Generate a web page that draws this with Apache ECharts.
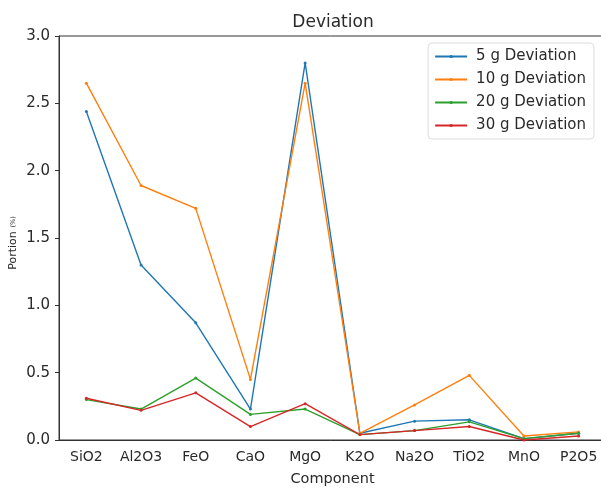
<!DOCTYPE html>
<html>
<head>
<meta charset="utf-8">
<script src="https://cdn.jsdelivr.net/npm/echarts@6/dist/echarts.min.js"></script>
<style>
  html, body { margin: 0; padding: 0; background: #fff; }
  #chart { width: 601px; height: 488px; }
</style>
</head>
<body>
<div id="chart"></div>
<script>
// values
const components = ['SiO2', 'Al2O3', 'FeO', 'CaO', 'MgO', 'K2O', 'Na2O', 'TiO2', 'MnO', 'P2O5']
const dev5g = [2.44, 1.30, 0.87, 0.23, 2.80, 0.05, 0.14, 0.15, 0.01, 0.05]
const dev10g = [2.65, 1.89, 1.72, 0.45, 2.65, 0.05, 0.26, 0.48, 0.03, 0.06]
const dev20g = [0.30, 0.23, 0.46, 0.19, 0.23, 0.04, 0.07, 0.135, 0.01, 0.05]
const dev30g = [0.31, 0.22, 0.35, 0.10, 0.27, 0.04, 0.07, 0.10, 0.00, 0.03]
const seriesNames = ['5 g Deviation', '10 g Deviation', '20 g Deviation', '30 g Deviation']
const colors = ['#1f77b4', '#ff7f0e', '#2ca02c', '#d62728']

const font = 'DejaVu Sans'
const textColor = '#2a2a2a'
const chart = echarts.init(document.getElementById('chart'))

const makeLine = (name, data, color) => ({
  name,
  type: 'line',
  data,
  symbol: 'circle',
  symbolSize: 3,
  showSymbol: true,
  lineStyle: { width: 1.4, color },
  itemStyle: { color },
  emphasis: { disabled: true },
  animation: false
})

const option = {
  textStyle: { fontFamily: font },
  title: {
    text: 'Deviation',
    left: 328,
    top: 9,
    textAlign: 'center',
    textStyle: { fontFamily: font, fontSize: 17, fontWeight: 'normal', color: textColor }
  },
  grid: {
    left: 59,
    right: -5,
    top: 36,
    bottom: 48,
    outerBoundsMode: 'none',
    containLabel: false,
    show: true,
    borderColor: '#333',
    borderWidth: 1
  },
  legend: {
    orient: 'vertical',
    right: 7,
    top: 43,
    itemWidth: 32,
    itemHeight: 4,
    itemGap: 8,
    padding: [6, 8, 6, 6],
    borderColor: '#ddd',
    borderWidth: 1,
    borderRadius: 4,
    textStyle: { fontFamily: font, fontSize: 15, color: textColor, padding: [0, 0, 0, 4] },
    data: seriesNames
  },
  xAxis: {
    type: 'category',
    data: components,
    boundaryGap: true,
    name: 'Component',
    nameLocation: 'middle',
    nameGap: 32,
    nameMoveOverlap: false,
    nameTextStyle: { fontFamily: font, fontSize: 14.5, color: textColor },
    axisLine: { lineStyle: { color: '#333' } },
    axisTick: { alignWithLabel: true, length: 4, lineStyle: { color: '#333' } },
    axisLabel: { interval: 0, hideOverlap: false, fontFamily: font, fontSize: 14, color: textColor, margin: 10 },
    splitLine: { show: false }
  },
  yAxis: {
    type: 'value',
    min: 0,
    max: 3,
    interval: 0.5,
    name: '{a|Portion} {b|(%)}',
    nameLocation: 'middle',
    nameGap: 40,
    nameMoveOverlap: false,
    nameTextStyle: {
      padding: [0, 0, 0, -10],
      rich: {
        a: { fontFamily: font, fontSize: 11, color: textColor },
        b: { fontFamily: font, fontSize: 6.5, color: textColor }
      }
    },
    axisLine: { show: true, lineStyle: { color: '#333' } },
    axisTick: { show: true, length: 4, lineStyle: { color: '#333' } },
    axisLabel: {
      fontFamily: font,
      fontSize: 15,
      color: textColor,
      margin: 9,
      formatter: v => v.toFixed(1)
    },
    splitLine: { show: false }
  },
  series: [
    makeLine(seriesNames[0], dev5g, colors[0]),
    makeLine(seriesNames[1], dev10g, colors[1]),
    makeLine(seriesNames[2], dev20g, colors[2]),
    makeLine(seriesNames[3], dev30g, colors[3])
  ]
}

chart.setOption(option)
</script>
</body>
</html>
